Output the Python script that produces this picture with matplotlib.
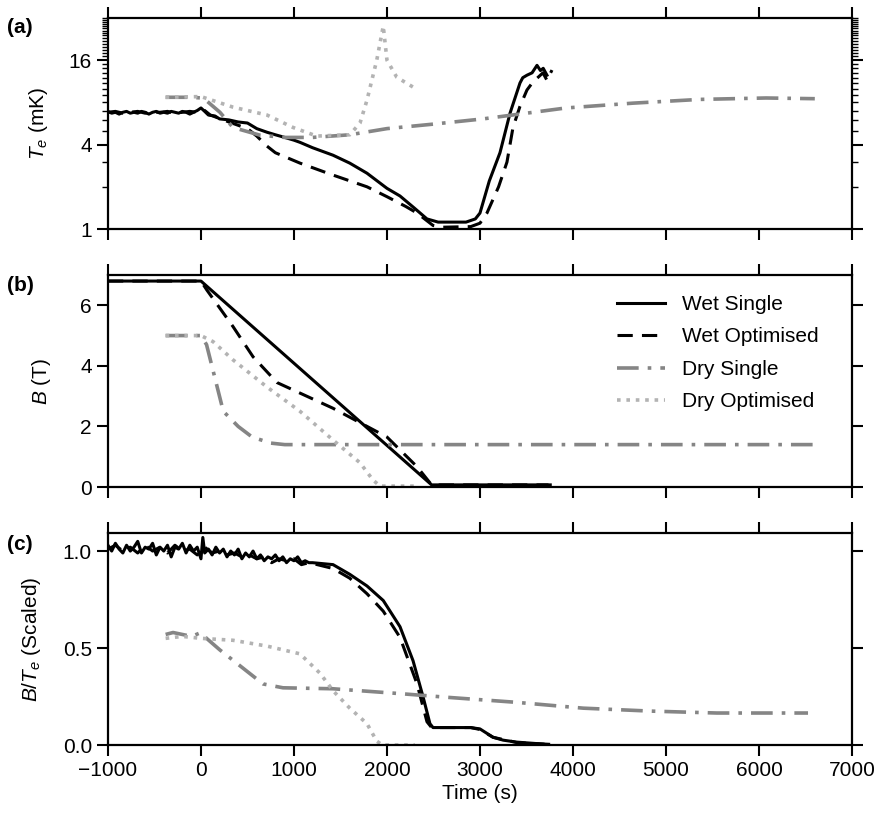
import matplotlib
matplotlib.use("Agg")
import matplotlib.pyplot as plt
from matplotlib.ticker import FixedLocator, FormatStrFormatter, NullFormatter

plt.rcParams['font.family'] = ['Liberation Sans', 'DejaVu Sans']
plt.rcParams['mathtext.fontset'] = 'custom'
plt.rcParams['mathtext.rm'] = 'Liberation Sans'
plt.rcParams['mathtext.it'] = 'Liberation Sans:italic'
plt.rcParams['axes.unicode_minus'] = True

# ---------------- data ----------------
labels = ["Wet Single", "Wet Optimised", "Dry Single", "Dry Optimised"]

# panel (a): electron temperature Te (mK)
ws_te_t = [-1000, -960, -920, -880, -840, -800, -760, -720, -680, -640, -600, -560, -520, -480,
           -440, -400, -360, -320, -280, -240, -200, -160, -120, -80, -40, 0,
           40, 80, 150, 200, 300, 400, 500, 600, 710, 800, 900, 1000, 1065, 1200, 1420, 1600,
           1785, 2000, 2140, 2300, 2430, 2550, 2700, 2850, 2950, 3000, 3100, 3215, 3323, 3430,
           3460, 3505, 3560, 3613, 3650, 3680, 3720]
ws_te = [6.9, 6.7, 6.8, 6.6, 6.8, 6.9, 6.7, 6.8, 6.7, 6.9, 6.8, 6.6, 6.8, 6.9,
         6.7, 6.8, 6.7, 6.9, 6.8, 6.7, 6.9, 6.8, 6.6, 6.8, 7.0, 7.3,
         6.9, 6.5, 6.4, 6.1, 6.0, 5.8, 5.7, 5.2, 4.9, 4.7, 4.5, 4.3, 4.15, 3.8, 3.36, 2.95,
         2.5, 1.95, 1.72, 1.4, 1.18, 1.12, 1.12, 1.12, 1.18, 1.3, 2.2, 3.5, 6.7, 11.0,
         12.0, 12.5, 13.0, 14.7, 13.5, 14.0, 12.5]

wo_te_t = [-1000, -920, -840, -760, -680, -600, -520, -440, -360, -280, -200, -120, -40, 40,
           100, 300, 500, 600, 710, 800, 1065, 1400, 1785, 2000, 2200, 2323, 2495, 2600, 2900,
           3000, 3075, 3200, 3290, 3355, 3430, 3505, 3570, 3620, 3677, 3720, 3774]
wo_te = [6.8, 6.9, 6.7, 6.8, 6.9, 6.7, 6.8, 6.8, 6.9, 6.7, 6.8, 6.9, 6.8, 7.0,
         6.5, 5.8, 5.2, 4.6, 3.9, 3.5, 2.95, 2.45, 2.0, 1.7, 1.45, 1.3, 1.06, 1.03, 1.04,
         1.1, 1.3, 2.0, 3.0, 5.3, 7.5, 9.8, 11.2, 12.0, 13.0, 11.5, 13.6]

ds_te_t = [-380, -100, 0, 25, 204, 344, 634, 900, 1200, 1600, 2000, 2500, 3032, 3500, 3925,
           4645, 5360, 6075, 6600]
ds_te = [8.7, 8.7, 8.6, 8.6, 6.8, 5.3, 4.67, 4.5, 4.5, 4.7, 5.2, 5.6, 6.1, 6.7, 7.3,
         7.9, 8.4, 8.6, 8.5]

do_te_t = [-380, 0, 344, 710, 990, 1245, 1600, 1710, 1785, 1890, 1960, 2000, 2105, 2300]
do_te = [8.7, 8.8, 7.4, 6.5, 5.3, 4.6, 4.7, 5.7, 8.3, 16.0, 28.0, 16.0, 12.1, 10.1]

# panel (b): magnetic field B (T)
ws_b_t = [-1000, 0, 2480, 3720]
ws_b = [6.8, 6.8, 0.07, 0.07]
wo_b_t = [-1000, 0, 64, 344, 560, 817, 1420, 2000, 2323, 2480, 3780]
wo_b = [6.8, 6.8, 6.5, 5.3, 4.3, 3.45, 2.6, 1.65, 0.67, 0.07, 0.07]
ds_b_t = [-380, 0, 60, 240, 400, 550, 750, 900, 6600]
ds_b = [5.0, 5.0, 4.7, 2.5, 2.0, 1.65, 1.45, 1.4, 1.4]
do_b_t = [-380, 0, 130, 344, 710, 1065, 1420, 1710, 1850, 1925, 2300]
do_b = [5.0, 5.0, 4.8, 4.2, 3.3, 2.5, 1.55, 0.8, 0.23, 0.03, 0.03]

# panel (c): B/Te (scaled)
ws_r_t = [-1000, -960, -920, -880, -840, -800, -760, -720, -680, -640, -600, -560, -520, -480,
          -440, -400, -360, -320, -280, -240, -200, -160, -120, -80, -40, 0, 20, 40, 80, 120,
          160, 200, 240, 280, 320, 360, 400, 440, 480, 520, 560, 600, 640, 680, 720, 760, 800,
          840, 880, 920, 960, 1000, 1040, 1080, 1120, 1160, 1200,
          1420, 1600, 1785, 1960, 2140, 2280, 2390, 2462, 2495, 2900, 3000, 3140, 3250, 3395, 3677]
ws_r = [1.03, 1.00, 1.04, 1.01, 0.99, 1.03, 1.00, 1.02, 1.05, 0.99, 1.02, 1.01, 1.04, 0.98,
        1.02, 1.00, 1.03, 0.97, 1.02, 1.01, 1.04, 0.99, 1.03, 1.00, 1.02, 0.96, 1.07, 0.99, 1.01, 0.98,
        1.02, 0.99, 1.01, 0.97, 1.00, 0.98, 1.01, 0.96, 0.99, 0.97, 1.00, 0.96, 0.98, 0.95, 0.97, 0.96, 0.98,
        0.95, 0.97, 0.94, 0.96, 0.95, 0.97, 0.94, 0.95, 0.94, 0.94,
        0.93, 0.88, 0.82, 0.745, 0.61, 0.435, 0.245, 0.11, 0.09, 0.09, 0.083, 0.04, 0.025, 0.015, 0.005]

wo_r_t = [-1000, -920, -840, -760, -680, -600, -520, -440, -360, -280, -200, -120, -40, 40,
          120, 200, 280, 360, 440, 520, 600, 680, 760, 840, 920, 1000, 1080, 1160, 1250,
          1420, 1600, 1785, 1960, 2140, 2323, 2430, 2480, 2900, 3000, 3140, 3400, 3774]
wo_r = [1.01, 1.03, 1.00, 1.02, 0.99, 1.03, 1.00, 1.02, 0.99, 1.03, 1.00, 1.01, 0.98, 1.02,
        0.99, 1.00, 0.98, 0.99, 0.97, 0.98, 0.96, 0.97, 0.94, 0.96, 0.95, 0.96, 0.93, 0.94, 0.93,
        0.91, 0.86, 0.78, 0.69, 0.555, 0.315, 0.12, 0.09, 0.09, 0.08, 0.04, 0.012, 0.003]

ds_r_t = [-380, -300, -200, -100, 0, 60, 204, 495, 667, 882, 1420, 2140, 2677, 3395, 4110,
          4828, 5546, 6527]
ds_r = [0.57, 0.58, 0.57, 0.56, 0.58, 0.55, 0.49, 0.38, 0.315, 0.295, 0.29, 0.265, 0.245, 0.22,
        0.19, 0.175, 0.165, 0.165]

do_r_t = [-380, -200, 0, 344, 710, 1065, 1280, 1420, 1600, 1785, 1890, 1950, 2300]
do_r = [0.55, 0.56, 0.55, 0.54, 0.51, 0.47, 0.37, 0.28, 0.19, 0.11, 0.02, 0.0, 0.0]

x_ticks = [-1000, 0, 1000, 2000, 3000, 4000, 5000, 6000, 7000]

# ---------------- styles ----------------
styles = [
    dict(color='black', lw=2.2, ls='-'),
    dict(color='black', lw=2.2, ls=(0, (5, 3))),
    dict(color='#858585', lw=2.6, ls=(0, (6, 2.5, 1, 2.5))),
    dict(color='#b3b3b3', lw=2.6, ls=(0, (1, 1.6))),
]
FS = 15

fig = plt.figure(figsize=(8.82, 8.17), dpi=100)
L, W = 0.1224, 0.8436
axA = fig.add_axes([L, 0.7197, W, 0.2583])
axB = fig.add_axes([L, 0.4039, W, 0.2595])
axC = fig.add_axes([L, 0.0881, W, 0.2595])

panels = [
    (axA, [(ws_te_t, ws_te), (wo_te_t, wo_te), (ds_te_t, ds_te), (do_te_t, do_te)]),
    (axB, [(ws_b_t, ws_b), (wo_b_t, wo_b), (ds_b_t, ds_b), (do_b_t, do_b)]),
    (axC, [(ws_r_t, ws_r), (wo_r_t, wo_r), (ds_r_t, ds_r), (do_r_t, do_r)]),
]
for ax, series in panels:
    for (t, v), st, lab in zip(series, styles, labels):
        ax.plot(t, v, label=lab, solid_joinstyle='round', **st)
    ax.set_xlim(-1000, 7000)
    ax.set_xticks(x_ticks)
    for s in ax.spines.values():
        s.set_linewidth(1.6)
    ax.tick_params(which='major', direction='out', length=8, width=1.5,
                   top=True, right=True, labelsize=FS)
    ax.tick_params(which='minor', direction='out', length=4.5, width=1.0,
                   left=True, right=True)

# panel a
axA.set_yscale('log', base=2)
axA.set_ylim(1, 32)
axA.yaxis.set_major_locator(FixedLocator([1, 4, 16]))
axA.yaxis.set_major_formatter(FormatStrFormatter('%d'))
axA.yaxis.set_minor_locator(FixedLocator(list(range(2, 33))))
axA.yaxis.set_minor_formatter(NullFormatter())
axA.set_ylabel(r'$T_e$ (mK)', fontsize=FS)
axA.yaxis.set_label_coords(-0.078, 0.5)
axA.tick_params(labelbottom=False)

# panel b
axB.set_ylim(0, 7)
axB.set_yticks([0, 2, 4, 6])
axB.set_ylabel(r'$B$ (T)', fontsize=FS)
axB.yaxis.set_label_coords(-0.074, 0.5)
axB.tick_params(labelbottom=False)
axB.legend(loc='upper left', frameon=False, fontsize=FS, handlelength=2.3,
           labelspacing=0.65, bbox_to_anchor=(0.658, 1.0), handletextpad=0.8,
           borderpad=0.45)

# panel c
axC.set_ylim(0, 1.093)
axC.set_yticks([0.0, 0.5, 1.0])
axC.yaxis.set_major_formatter(FormatStrFormatter('%.1f'))
axC.set_ylabel(r'$B/T_e$ (Scaled)', fontsize=FS)
axC.yaxis.set_label_coords(-0.087, 0.5)
axC.set_xlabel('Time (s)', fontsize=FS, labelpad=3)

for lab, y in [('(a)', 0.966), ('(b)', 0.650), ('(c)', 0.334)]:
    fig.text(0.008, y, lab, fontsize=15, fontweight='bold', ha='left', va='center')

fig.savefig('out.png', dpi=100)
